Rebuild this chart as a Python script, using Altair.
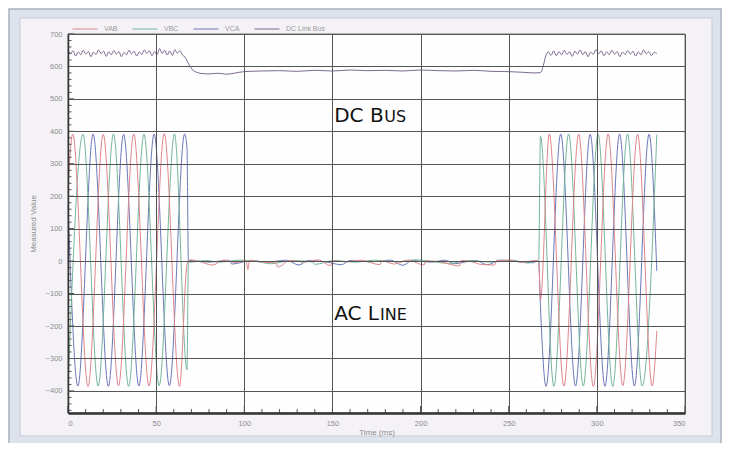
import altair as alt
import pandas as pd

# ---------------- axes / ticks ----------------
X_DOMAIN = [0, 350]
Y_DOMAIN = [-468, 700]
x_major = [0, 50, 100, 150, 200, 250, 300, 350]
y_major = [700, 600, 500, 400, 300, 200, 100, 0, -100, -200, -300, -400]
x_minor = [v for v in range(0, 351, 10) if v % 50 != 0]
y_minor = [v for v in range(-460, 700, 20) if v % 100 != 0]

series_names = ["VAB", "VBC", "VCA", "DC Link Bus"]
series_colors = ["#df868c", "#76b69a", "#6c78bb", "#7d6a92"]

# ---------------- VAB (red) ----------------
vab_t = [0, 2.7, 11.35, 20.0, 28.65, 37.3, 45.95, 54.6, 63.25, 67.5, 68.3,
         69.5, 75, 82, 88, 95, 101, 102, 103, 110, 118, 119, 126, 134, 142, 149, 150,
         158, 166, 177, 178, 185, 193, 202, 203, 211, 222, 223, 230, 234, 242, 243,
         250, 258, 265, 267.0,
         268.0, 273.0, 281.3, 289.7, 298.0, 306.4, 314.7, 323.1, 331.4, 334.0]
vab_v = [220, 392, -386, 391, -384, 392, -385, 393, -386, -10, 0,
         4, -2, -12, 3, -4, 2, -26, 3, -3, -5, -18, 2, -3, 4, -14, 1,
         -2, 3, -11, 2, -9, 3, -12, 1, -2, -15, 2, -3, -10, -12, 2,
         3, -4, 2, 0,
         -120, 392, -385, 391, -386, 392, -384, 391, -385, -215]

# ---------------- VBC (green) ----------------
vbc_t = [0, 8.5, 17.1, 25.8, 34.4, 43.1, 51.7, 60.4, 67.5, 68.3,
         69, 78, 86, 97, 108, 115, 127, 139, 140, 151, 163, 174, 186, 197, 209,
         216, 228, 240, 252, 261, 266, 267.0,
         268.0, 275.6, 284.0, 292.3, 300.7, 309.0, 317.4, 325.7, 334.0]
vbc_v = [-386, 391, -385, 392, -386, 391, -384, 392, -335, 0,
         -3, 2, -3, 3, -2, -8, 2, -3, -10, 2, -3, 3, -2, 4, -3,
         -7, 2, -3, 3, -6, 1, 0,
         385, -386, 392, -385, 391, -386, 392, -385, 390]

# ---------------- VCA (blue) ----------------
vca_t = [0, 5.6, 14.25, 22.9, 31.55, 40.2, 48.85, 57.5, 66.15, 67.5, 68.3,
         69, 80, 91, 93, 104, 113, 124, 131, 136, 147, 155, 160, 171, 183, 190,
         195, 206, 214, 219, 231, 238, 245, 256, 264, 266.5, 267.0,
         268.0, 271.2, 279.5, 287.9, 296.2, 304.6, 312.9, 321.3, 329.6, 334.0]
vca_v = [175, -385, 392, -386, 391, -385, 392, -384, 392, 348, 0,
         2, -3, 3, -9, 2, -3, 3, -12, 2, -3, -11, 2, -2, 3, -13,
         2, -3, 3, -8, 2, -11, 3, -2, -5, 1, 0,
         -140, -386, 392, -385, 391, -386, 392, -385, 391, -30]

# ---------------- DC bus ----------------
dc_t = [0, 1.4, 2.9, 4.3, 5.8, 7.2, 8.7, 10.1, 11.6, 13.0, 14.4, 15.9, 17.3, 18.8,
        20.2, 21.7, 23.1, 24.5, 26.0, 27.4, 28.9, 30.3, 31.8, 33.2, 34.6, 36.1,
        37.5, 39.0, 40.4, 41.9, 43.3, 44.7, 46.2, 47.6, 49.1, 50.5, 52.0, 53.4,
        54.8, 56.3, 57.7, 59.2, 60.6, 62.0, 63.5, 65.0,
        66.5, 68.0, 69.5, 71.0, 73.0, 76, 80, 85, 90, 95, 100, 110, 120, 130, 140,
        150, 160, 170, 180, 190, 200, 210, 220, 230, 240, 250, 258, 265, 268,
        269.5, 271.0,
        272.5, 274, 275.5, 277, 278.5, 280, 281.5, 283, 284.5, 286, 287.5, 289,
        290.5, 292, 293.5, 295, 296.5, 298, 299.5, 301, 302.5, 304, 305.5, 307,
        308.5, 310, 311.5, 313, 314.5, 316, 317.5, 319, 320.5, 322, 323.5, 325,
        326.5, 328, 329.5, 331, 332.5, 334]
dc_v = [652, 640, 648, 632, 645, 636, 650, 638, 646, 630, 644, 637, 651, 639,
        647, 631, 645, 636, 649, 638, 646, 630, 643, 636, 650, 639,
        647, 632, 645, 637, 651, 640, 648, 633, 646, 636, 655, 640,
        650, 635, 648, 634, 652, 641, 648, 635,
        628, 612, 598, 588, 582, 578, 577, 579, 576, 580, 584, 586, 587, 585, 588,
        586, 589, 587, 588, 586, 589, 587, 586, 588, 585, 584, 582, 580, 581,
        600, 632,
        645, 634, 648, 633, 646, 636, 650, 637, 645, 631, 647, 638,
        651, 636, 646, 630, 644, 637, 652, 639, 648, 633, 645, 636,
        650, 638, 646, 630, 644, 637, 649, 638, 647, 632, 645, 636,
        651, 639, 646, 633, 644, 640]

# ---------------- annotations ----------------
ann_big = ["DC B", "AC L"]
ann_small = ["US", "INE"]
ann_t = [151, 151]
ann_v = [429, -180]
ann_dx = [50.0, 45.8]


def series_frame(name, ts, vs):
    return pd.DataFrame({"t": ts, "v": vs, "series": name})


lines_df = pd.concat([
    series_frame("DC Link Bus", dc_t, dc_v),
    series_frame("VCA", vca_t, vca_v),
    series_frame("VBC", vbc_t, vbc_v),
    series_frame("VAB", vab_t, vab_v),
], ignore_index=True)

xs = alt.Scale(domain=X_DOMAIN, nice=False, zero=False)
ys = alt.Scale(domain=Y_DOMAIN, nice=False, zero=False)
FONT = "Liberation Sans"
LBL = "#8c8c8c"

x_axis = alt.Axis(
    values=x_major, grid=True, gridColor="#555555", gridWidth=1, ticks=False,
    domainColor="#333333", domainWidth=2.5, labelFontSize=7.5, labelColor=LBL,
    labelFont=FONT, labelPadding=6, title="Time (ms)", titleFontSize=8,
    titleColor=LBL, titleFont=FONT, titleFontWeight="normal", titlePadding=2,
    zindex=1)
y_axis = alt.Axis(
    values=y_major, grid=True, gridColor="#555555", gridWidth=1, ticks=False,
    domainColor="#333333", domainWidth=1.5, labelFontSize=7.5, labelColor=LBL,
    labelFont=FONT, labelPadding=6, title="Measured Value", titleFontSize=8,
    titleColor=LBL, titleFont=FONT, titleFontWeight="normal", titlePadding=8,
    zindex=1)


def X(field):
    return alt.X(field, scale=xs, axis=x_axis)


def Y(field):
    return alt.Y(field, scale=ys, axis=y_axis)


one = pd.DataFrame({"k": [0]})

frame = alt.Chart(one).mark_rect(fill="#dde2ec", stroke="#a9b0bf", strokeWidth=1.5).encode(
    x=alt.value(-59), x2=alt.value(653), y=alt.value(-25), y2=alt.value(420))
panel = alt.Chart(one).mark_rect(fill="#f4f2f6", stroke="#c6cbd6", strokeWidth=1).encode(
    x=alt.value(-48), x2=alt.value(644), y=alt.value(-16), y2=alt.value(402))
plotbg = alt.Chart(one).mark_rect(fill="#fefefe", stroke="#777777", strokeWidth=1).encode(
    x=alt.value(0), x2=alt.value(617), y=alt.value(0), y2=alt.value(379))

lines = alt.Chart(lines_df).mark_line(strokeWidth=1.0, interpolate="monotone").encode(
    x=X("t:Q"),
    y=Y("v:Q"),
    color=alt.Color("series:N", scale=alt.Scale(domain=series_names, range=series_colors),
                    legend=alt.Legend(orient="none", legendX=4, legendY=-18,
                                      direction="horizontal", columns=4,
                                      symbolType="stroke", symbolSize=625,
                                      symbolStrokeWidth=1, labelFontSize=7,
                                      labelColor="#9a9a9a", labelFont=FONT,
                                      columnPadding=12, labelOffset=6, padding=0,
                                      title=None)),
    detail="series:N",
)

ym_df = pd.DataFrame({"v": y_major})
yn_df = pd.DataFrame({"v": y_minor})
xm_df = pd.DataFrame({"t": x_major})
xn_df = pd.DataFrame({"t": x_minor})

tick_y_major = alt.Chart(ym_df).mark_rule(color="#444444", strokeWidth=1).encode(
    y=Y("v:Q"), x=alt.value(0), x2=alt.value(6))
tick_y_minor = alt.Chart(yn_df).mark_rule(color="#555555", strokeWidth=1).encode(
    y=Y("v:Q"), x=alt.value(0), x2=alt.value(3.5))
tick_x_major = alt.Chart(xm_df).mark_rule(color="#444444", strokeWidth=1).encode(
    x=X("t:Q"), y=alt.value(379), y2=alt.value(372))
tick_x_minor = alt.Chart(xn_df).mark_rule(color="#555555", strokeWidth=1).encode(
    x=X("t:Q"), y=alt.value(379), y2=alt.value(375))

ann_df = pd.DataFrame({"t": ann_t, "v": ann_v, "big": ann_big, "small": ann_small})
text_big = alt.Chart(ann_df).mark_text(align="left", baseline="alphabetic", fontSize=20,
                                       font="DejaVu Sans", color="#111111").encode(
    x=X("t:Q"), y=Y("v:Q"), text="big:N")
text_small_a = alt.Chart(ann_df.iloc[[0]]).mark_text(
    align="left", baseline="alphabetic", fontSize=16, font="DejaVu Sans",
    color="#111111", dx=ann_dx[0]).encode(
    x=X("t:Q"), y=Y("v:Q"), text="small:N")
text_small_b = alt.Chart(ann_df.iloc[[1]]).mark_text(
    align="left", baseline="alphabetic", fontSize=16, font="DejaVu Sans",
    color="#111111", dx=ann_dx[1]).encode(
    x=X("t:Q"), y=Y("v:Q"), text="small:N")

chart = alt.layer(
    frame, panel, plotbg, lines,
    tick_y_major, tick_y_minor, tick_x_major, tick_x_minor,
    text_big, text_small_a, text_small_b,
).properties(
    width=617, height=379,
    autosize=alt.AutoSizeParams(type="none"),
    padding={"left": 60, "top": 26, "right": 40, "bottom": 30},
    background="white",
).configure_view(stroke=None)

chart.save("out.html", embed_options={"renderer": "svg", "actions": False})
